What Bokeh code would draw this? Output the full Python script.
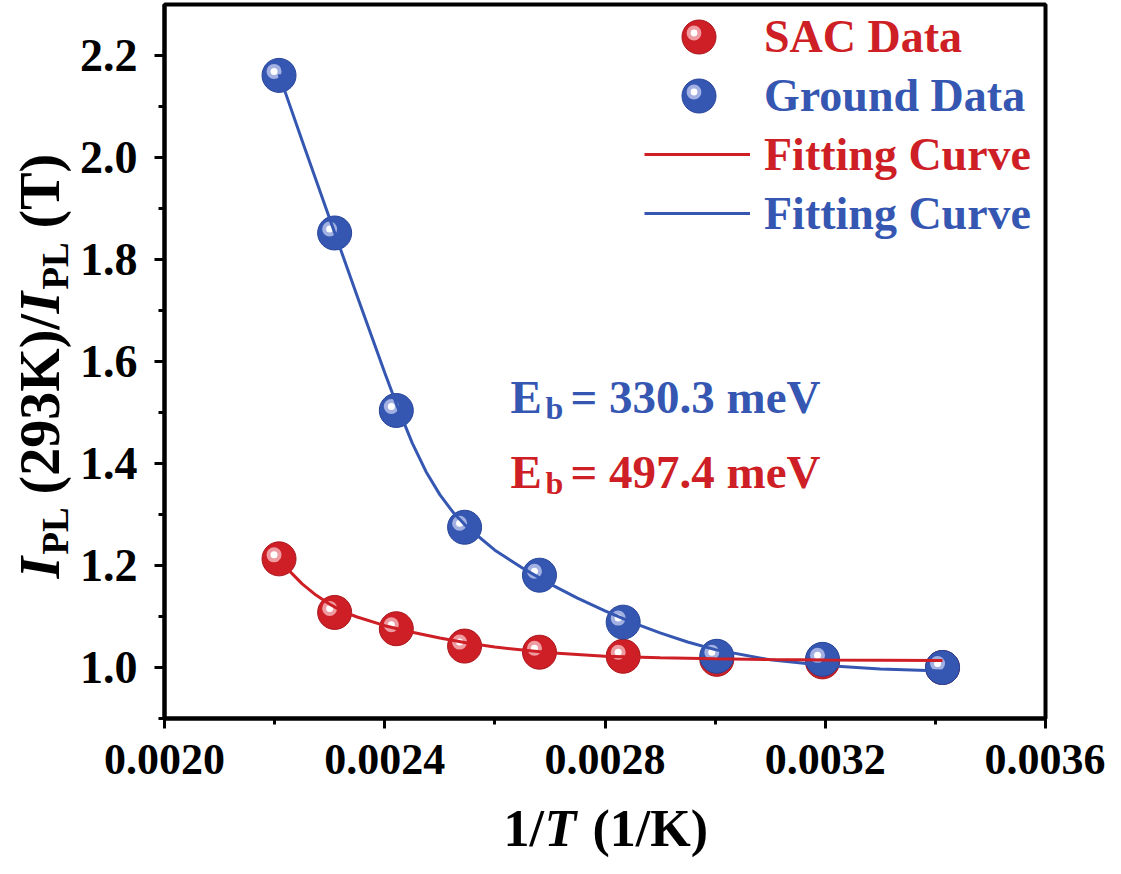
import math
from bokeh.plotting import figure
from bokeh.layouts import row, column
from bokeh.models import (Range1d, FixedTicker, NumeralTickFormatter, Label,
                          Legend, LegendItem, ColumnDataSource)
from bokeh.transform import dodge
from bokeh.embed import file_html
from bokeh.resources import INLINE

# ---------------- data ----------------
inv_T = [0.002208, 0.002309, 0.002421, 0.002545, 0.002681, 0.002833, 0.003003, 0.003195, 0.003413]
sac_ratio = [1.213, 1.108, 1.076, 1.042, 1.030, 1.022, 1.016, 1.011, 1.000]
ground_ratio = [2.161, 1.852, 1.504, 1.275, 1.181, 1.089, 1.022, 1.016, 1.000]

fit_x_ground = [0.002208, 0.00225, 0.0023, 0.00235, 0.0024, 0.002425, 0.00245, 0.002475,
                0.0025, 0.002525, 0.00255, 0.0026, 0.00265, 0.0027, 0.00275, 0.0028,
                0.00285, 0.0029, 0.00295, 0.003, 0.0031, 0.0032, 0.0033, 0.003413]
fit_ground = [2.163, 2.033, 1.880, 1.728, 1.578, 1.506, 1.440, 1.384,
              1.339, 1.303, 1.275, 1.230, 1.195, 1.164, 1.136, 1.111,
              1.088, 1.068, 1.050, 1.035, 1.015, 1.004, 0.997, 0.993]

fit_x_sac = [0.002208, 0.00225, 0.002275, 0.0023, 0.002325, 0.00235, 0.0024, 0.00245, 0.0025,
             0.00255, 0.0026, 0.0027, 0.0028, 0.0029, 0.003, 0.0031, 0.0032, 0.0033, 0.003413]
fit_sac = [1.210, 1.164, 1.142, 1.124, 1.109, 1.099, 1.082, 1.069, 1.058,
           1.048, 1.040, 1.029, 1.022, 1.019, 1.017, 1.0155, 1.0145, 1.014, 1.0135]

x_ticks = [0.0020, 0.0024, 0.0028, 0.0032, 0.0036]
x_minor = [0.0022, 0.0026, 0.0030, 0.0034]
y_ticks = [1.0, 1.2, 1.4, 1.6, 1.8, 2.0, 2.2]
y_minor = [0.9, 1.1, 1.3, 1.5, 1.7, 1.9, 2.1]

series_names = ["SAC Data", "Ground Data", "Fitting Curve", "Fitting Curve"]
eb_texts = ["= 330.3 meV", "= 497.4 meV"]

# ---------------- styling ----------------
RED = "#CE1F26"
RED_EDGE = "#A9151B"
RED_HI = "#EE9CA1"
BLUE = "#3557B2"
BLUE_EDGE = "#26449A"
BLUE_HI = "#A3B1E2"
FONT = "Liberation Serif"

X0, X1 = 0.0020, 0.0036
Y0, Y1 = 0.9, 2.3
FW, FH = 883, 714
LEFT_W = 76
MAIN_H = 800
TOTAL_W, TOTAL_H = 1105, 858

p = figure(width=TOTAL_W - LEFT_W, height=MAIN_H, output_backend="svg", toolbar_location=None,
           x_range=Range1d(X0, X1), y_range=Range1d(Y0, Y1),
           min_border_left=86, min_border_right=60, min_border_top=4, min_border_bottom=82)
p.grid.visible = False
p.background_fill_color = "white"
p.border_fill_color = "white"
p.outline_line_color = "black"
p.outline_line_width = 4

for ax in (p.xaxis[0], p.yaxis[0]):
    ax.axis_line_width = 4
    ax.axis_line_color = "black"
    ax.major_tick_line_width = 3
    ax.minor_tick_line_width = 3
    ax.major_tick_in = 0
    ax.minor_tick_in = 0
    ax.major_tick_out = 10
    ax.minor_tick_out = 6
    ax.major_label_text_font = FONT
    ax.major_label_text_font_style = "bold"
    ax.major_label_text_color = "black"

p.xaxis.ticker = FixedTicker(ticks=x_ticks, minor_ticks=x_minor)
p.xaxis.formatter = NumeralTickFormatter(format="0.0000")
p.xaxis.major_label_standoff = 16
p.xaxis.major_label_text_font_size = "44px"
p.yaxis.ticker = FixedTicker(ticks=y_ticks, minor_ticks=y_minor)
p.yaxis.formatter = NumeralTickFormatter(format="0.0")
p.yaxis.major_label_standoff = 17
p.yaxis.major_label_text_font_size = "46px"

src = ColumnDataSource(dict(x=inv_T, sac=sac_ratio, ground=ground_ratio))

# highlight offset (screen px -> data units)
dx = -5 * (X1 - X0) / FW
dy = 4 * (Y1 - Y0) / FH
hx = dodge("x", dx, range=p.x_range)

# SAC balls
red_r = p.scatter("x", "sac", source=src, size=34, fill_color=RED, line_color=RED_EDGE, line_width=1)
red_h1 = p.scatter(hx, dodge("sac", dy, range=p.y_range), source=src, size=15, fill_color=RED_HI, line_color=None)
red_h2 = p.scatter(hx, dodge("sac", dy, range=p.y_range), source=src, size=7, fill_color="white", line_color=None)

# Ground balls
blue_r = p.scatter("x", "ground", source=src, size=34, fill_color=BLUE, line_color=BLUE_EDGE, line_width=1)
blue_h1 = p.scatter(hx, dodge("ground", dy, range=p.y_range), source=src, size=15, fill_color=BLUE_HI, line_color=None)
blue_h2 = p.scatter(hx, dodge("ground", dy, range=p.y_range), source=src, size=7, fill_color="white", line_color=None)

# fitting curves
blue_line = p.line(fit_x_ground, fit_ground, line_color=BLUE, line_width=3)
red_line = p.line(fit_x_sac, fit_sac, line_color=RED, line_width=3)

# ---------------- legends ----------------
def make_legend(label, rend, color, loc, gw, gh, standoff, fsize="46px"):
    return Legend(items=[LegendItem(label=label, renderers=[rend])], location=loc,
                  glyph_width=gw, glyph_height=gh, label_height=gh, label_width=1,
                  label_standoff=standoff, padding=0, margin=0, spacing=0,
                  border_line_color=None, background_fill_alpha=0,
                  label_text_font=FONT, label_text_font_style="bold",
                  label_text_font_size=fsize, label_text_color=color,
                  label_text_baseline="middle")

p.add_layout(make_legend(series_names[0], red_r, RED, (492, 639), 85, 85, 23), "center")
p.add_layout(make_legend(series_names[1], blue_r, BLUE, (492, 580), 85, 85, 23), "center")
p.add_layout(make_legend(series_names[2], red_line, RED, (480, 534), 106, 60, 14), "center")
p.add_layout(make_legend(series_names[3], blue_line, BLUE, (480, 475), 106, 60, 14), "center")
# glossy highlights of the legend balls
p.add_layout(make_legend(" ", red_h1, RED, (511, 667), 37, 37, 0, "2px"), "center")
p.add_layout(make_legend(" ", red_h2, RED, (521, 677), 17, 17, 0, "2px"), "center")
p.add_layout(make_legend(" ", blue_h1, BLUE, (511, 608), 37, 37, 0, "2px"), "center")
p.add_layout(make_legend(" ", blue_h2, BLUE, (521, 618), 17, 17, 0, "2px"), "center")


def add_label(fig, text, x, y, size, color, style="bold", angle=0.0):
    fig.add_layout(Label(x=x, y=y, x_units="screen", y_units="screen", text=text,
                         text_font=FONT, text_font_style=style, text_font_size=size,
                         text_color=color, text_align="left", text_baseline="alphabetic",
                         angle=angle))

# ---------------- E_b annotations ----------------
for (txt, col, base) in [(eb_texts[0], BLUE, 322), (eb_texts[1], RED, 247)]:
    add_label(p, "E", 346, base, "47px", col)
    add_label(p, "b", 381, base - 11, "32px", col)
    add_label(p, txt, 406, base, "47px", col)


def blank_fig(w, h):
    f = figure(width=w, height=h, output_backend="svg", toolbar_location=None,
               x_range=Range1d(0, 1), y_range=Range1d(0, 1),
               x_axis_location=None, y_axis_location=None, min_border=0)
    f.grid.visible = False
    f.outline_line_color = None
    f.background_fill_color = "white"
    f.border_fill_color = "white"
    return f

# ---------------- y title: I_PL (293K)/I_PL (T), rotated ----------------
yt = blank_fig(LEFT_W, MAIN_H)
A = math.pi / 2
add_label(yt, "I", 39, 140, "56px", "black", style="bold italic", angle=A)
add_label(yt, "PL", 55, 164, "37px", "black", angle=A)
add_label(yt, "(293K)/", 39, 224, "56px", "black", angle=A)
add_label(yt, "I", 39, 405, "56px", "black", style="bold italic", angle=A)
add_label(yt, "PL", 55, 429, "37px", "black", angle=A)
add_label(yt, "(T)", 39, 490, "56px", "black", angle=A)

# ---------------- x title: 1/T (1/K) ----------------
xt = blank_fig(TOTAL_W, TOTAL_H - MAIN_H)
add_label(xt, "1/", 503, 30, "52px", "black")
add_label(xt, "T", 544, 30, "52px", "black", style="bold italic")
add_label(xt, "(1/K)", 592, 30, "52px", "black")

layout = column(row(yt, p, spacing=0), xt, spacing=0)

open("out.html", "w").write(file_html(layout, INLINE))
